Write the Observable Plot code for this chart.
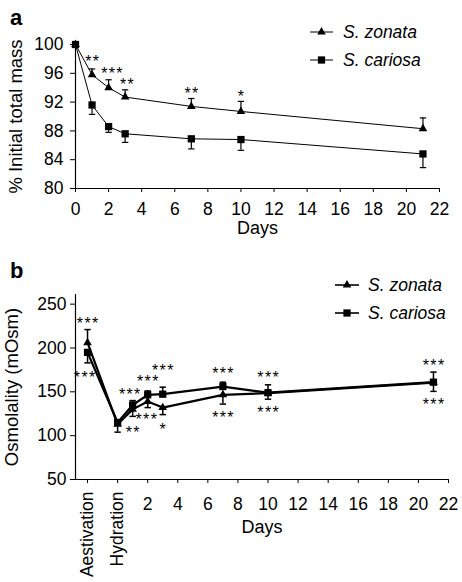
<!DOCTYPE html>
<html><head><meta charset="utf-8">
<script src="https://cdn.jsdelivr.net/npm/d3@7"></script>
<script src="https://cdn.jsdelivr.net/npm/@observablehq/plot@0.6"></script>
<style>
body{margin:0;background:#fff}
#wrap{position:relative;width:462px;height:582px;font-family:"Liberation Sans",Arial,sans-serif;background:#fff}
#wrap > div{position:absolute;left:0}
</style>
</head><body><div id="wrap"></div>
<script>
// ---------- Panel a: % initial total mass ----------
const daysA = [0, 1, 2, 3, 7, 10, 21];
const zonataA = [100, 95.8, 94.0, 92.7, 91.4, 90.7, 88.3];
const zonataAErr = [100, 96.6, 95.1, 93.7, 92.5, 92.1, 89.8];   // upper bar end
const cariosaA = [100, 91.6, 88.6, 87.6, 86.9, 86.8, 84.8];
const cariosaAErr = [100, 90.3, 87.8, 86.4, 85.5, 85.3, 82.9];  // lower bar end
const xDomainA = [0, 22];
const yDomainA = [80, 100];
const xTicksA = [0, 2, 4, 6, 8, 10, 12, 14, 16, 18, 20, 22];
const yTicksA = [80, 84, 88, 92, 96, 100];
const starsAx = [1, 2.2, 3.1, 7, 10];
const starsAy = [98.2, 96.5, 94.9, 93.75, 93.3];
const starsAl = ["**", "***", "**", "**", "*"];

// ---------- Panel b: osmolality ----------
const daysB = [-2, 0, 1, 2, 3, 7, 10, 21];
const zonataB = [206, 113, 130, 139, 132, 146.6, 148.5, 160.5];
const zonataBErr = [221, 113, 122, 132, 124, 136, 141.6, 150.5];
const cariosaB = [195, 115, 135, 146.6, 147.3, 156, 149, 161];
const cariosaBErr = [183, 104, 140, 151, 155.3, 161, 158, 172.5];
const xDomainB = [-2.8, 22];
const yDomainB = [50, 261];
const xNumTicksB = [2, 4, 6, 8, 10, 12, 14, 16, 18, 20, 22];
const xCatTicksB = [-2, 0];
const xCatLabelsB = ["Aestivation", "Hydration"];
const yTicksB = [50, 100, 150, 200, 250];
const starsBx = [-2, -2.2, 0.8, 1.0, 2.0, 1.9, 3.0, 3.0, 7, 7, 10, 10, 21, 21];
const starsBy = [232, 170, 151, 108, 166, 122, 178, 111, 174.5, 125, 170, 131, 184, 140];
const starsBl = ["***", "***", "***", "**", "***", "***", "***", "*", "***", "***", "***", "***", "***", "***"];

const seriesNames = ["S. zonata", "S. cariosa"];

const FONT = '"Liberation Sans", Arial, sans-serif';
const rows = (xs, ys, es) => xs.map((x, i) => ({x, y: ys[i], e: es[i]}));
const stars = (xs, ys, ls) => xs.map((x, i) => ({x, y: ys[i], label: ls[i]}));
const spaced = s => s.split("").join("\u200A");
const cap = {draw(ctx, size) { const w = Math.sqrt(size); ctx.moveTo(-w, 0); ctx.lineTo(w, 0); }};

function panel({zon, car, st, xDomain, yDomain, lineW, errW, height, margins, yTitle, yTitleDx, daysDy, axes}) {
  return Plot.plot({
    width: 462, height,
    marginTop: margins[0], marginRight: margins[1], marginBottom: margins[2], marginLeft: margins[3],
    style: {fontFamily: FONT, fontSize: "17px", background: "white", color: "black", overflow: "visible"},
    x: {domain: xDomain},
    y: {domain: yDomain},
    marks: [
      Plot.ruleY([yDomain[0]], {stroke: "black", strokeWidth: 1.2}),
      Plot.ruleX([xDomain[0]], {stroke: "black", strokeWidth: 1.2}),
      Plot.ruleX(zon, {x: "x", y1: "y", y2: "e", stroke: "black", strokeWidth: errW}),
      Plot.ruleX(car, {x: "x", y1: "y", y2: "e", stroke: "black", strokeWidth: errW}),
      Plot.dot(zon.filter(d => d.e !== d.y), {x: "x", y: "e", symbol: cap, r: 1.8, stroke: "black", strokeWidth: errW, fill: "none"}),
      Plot.dot(car.filter(d => d.e !== d.y), {x: "x", y: "e", symbol: cap, r: 1.8, stroke: "black", strokeWidth: errW, fill: "none"}),
      Plot.line(zon, {x: "x", y: "y", stroke: "black", strokeWidth: lineW}),
      Plot.line(car, {x: "x", y: "y", stroke: "black", strokeWidth: lineW}),
      Plot.dot(zon, {x: "x", y: "y", symbol: "triangle", r: 3.2, fill: "black", stroke: "none"}),
      Plot.dot(car, {x: "x", y: "y", symbol: "square", r: 4.1, fill: "black", stroke: "none"}),
      Plot.text(st, {x: "x", y: "y", text: d => spaced(d.label), fontSize: 16, dy: 4, fill: "black"}),
      ...axes,
      Plot.text([yTitle], {frameAnchor: "left", textAnchor: "middle", rotate: -90, dx: yTitleDx, fontSize: 18.5, fill: "black"}),
      Plot.text(["Days"], {frameAnchor: "bottom", dy: daysDy, fontSize: 18, fill: "black"})
    ]
  });
}

const wrap = document.getElementById("wrap");

const plotA = panel({
  zon: rows(daysA, zonataA, zonataAErr),
  car: rows(daysA, cariosaA, cariosaAErr),
  st: stars(starsAx, starsAy, starsAl),
  xDomain: xDomainA, yDomain: yDomainA, lineW: 1, errW: 1.2,
  height: 255, margins: [44, 23, 67, 75],
  yTitle: "% Initial total mass", yTitleDx: -59, daysDy: 45,
  axes: [
    Plot.axisX({ticks: xTicksA, tickSize: 4, tickPadding: 10, fontSize: 17.5, label: null, tickFormat: d => String(d)}),
    Plot.axisY({ticks: yTicksA, tickSize: 5, tickPadding: 7, fontSize: 17.5, label: null, tickFormat: d => String(d)})
  ]
});

const plotB = panel({
  zon: rows(daysB, zonataB, zonataBErr),
  car: rows(daysB, cariosaB, cariosaBErr),
  st: stars(starsBx, starsBy, starsBl),
  xDomain: xDomainB, yDomain: yDomainB, lineW: 2.2, errW: 1.5,
  height: 327, margins: [39, 14, 103, 75],
  yTitle: "Osmolality (mOsm)", yTitleDx: -63, daysDy: 53.5,
  axes: [
    Plot.axisX({ticks: xNumTicksB, tickSize: 4, tickPadding: 14, fontSize: 17.5, label: null, tickFormat: d => String(d)}),
    Plot.axisX({ticks: xCatTicksB, tickSize: 4, tickPadding: 8, tickRotate: -90, fontSize: 17.5, label: null,
                tickFormat: d => xCatLabelsB[xCatTicksB.indexOf(d)]}),
    Plot.axisY({ticks: yTicksB, tickSize: 5, tickPadding: 4, fontSize: 17.5, label: null, tickFormat: d => String(d)})
  ]
});

const da = document.createElement("div"); da.style.top = "0px"; da.appendChild(plotA); wrap.appendChild(da);
const db = document.createElement("div"); db.style.top = "255px"; db.appendChild(plotB); wrap.appendChild(db);

// ---------- Overlay: panel letters and legends ----------
const ov = d3.select(wrap).append("svg")
  .attr("width", 462).attr("height", 582)
  .style("position", "absolute").style("left", "0px").style("top", "0px")
  .style("pointer-events", "none")
  .attr("font-family", FONT);

ov.append("text").attr("x", 10).attr("y", 25).attr("font-size", 22).attr("font-weight", "bold").text("a");
ov.append("text").attr("x", 10).attr("y", 278).attr("font-size", 22).attr("font-weight", "bold").text("b");

function legend(x0, x1, tx, ys, lw) {
  seriesNames.forEach((name, i) => {
    const y = ys[i];
    ov.append("line").attr("x1", x0).attr("x2", x1).attr("y1", y).attr("y2", y).attr("stroke", "black").attr("stroke-width", lw);
    const cx = (x0 + x1) / 2;
    if (i === 0) {
      ov.append("path").attr("d", d3.symbol(d3.symbolTriangle, Math.PI * 3.2 * 3.2)()).attr("transform", `translate(${cx},${y})`).attr("fill", "black");
    } else {
      ov.append("path").attr("d", d3.symbol(d3.symbolSquare, Math.PI * 16.8)()).attr("transform", `translate(${cx},${y})`).attr("fill", "black");
    }
    ov.append("text").attr("x", tx).attr("y", y).attr("dy", "0.35em").attr("font-size", 17.5).attr("font-style", "italic").text(name);
  });
}
legend(310, 333, 343, [32, 60], 1);
legend(335, 359, 368, [285, 313], 1.6);
</script></body></html>
